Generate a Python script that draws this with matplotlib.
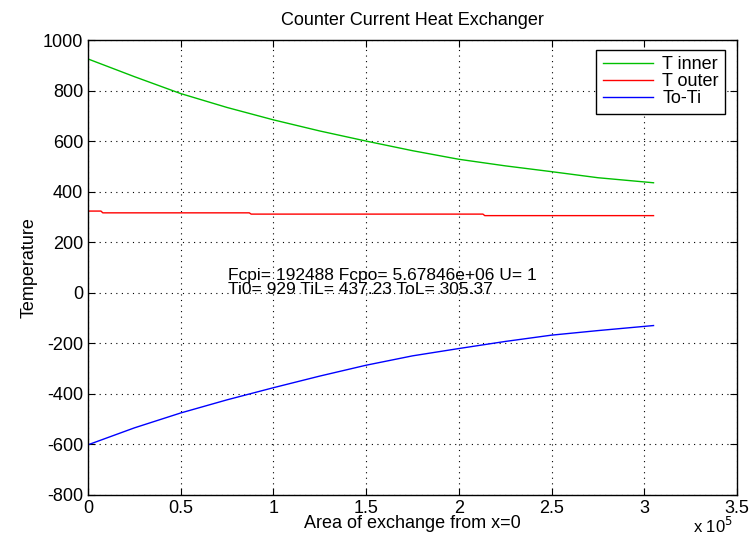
import matplotlib
matplotlib.use("Agg")
import matplotlib.pyplot as plt
from matplotlib.ticker import FuncFormatter

plt.rcParams['font.family'] = ['Liberation Sans Narrow', 'Liberation Sans', 'DejaVu Sans']
plt.rcParams['axes.unicode_minus'] = False

# area of exchange (units of 1e5)
area = [0, 0.25, 0.5, 0.75, 1.0, 1.25, 1.5, 1.75, 2.0, 2.25, 2.5, 2.75, 3.05]
t_inner = [925, 855, 788, 733, 684, 640, 600, 562, 528, 502, 479, 455, 435]
to_minus_ti = [-602, -535, -476, -424, -376, -330, -287, -250, -221, -193, -168, -150, -130]
# outer temperature shows small steps
area_outer = [0, 0.07, 0.08, 0.87, 0.88, 2.13, 2.14, 3.05]
t_outer = [323, 323, 316, 316, 311, 311, 305, 305]

fig = plt.figure(figsize=(7.52, 5.48), dpi=100)
ax = fig.add_axes([0.117, 0.097, 0.863, 0.83])

ax.plot([a * 1e5 for a in area], t_inner, color="#00c000", lw=1, label="T inner")
ax.plot([a * 1e5 for a in area_outer], t_outer, color="#ff0000", lw=1, label="T outer")
ax.plot([a * 1e5 for a in area], to_minus_ti, color="#0000ff", lw=1, label="To-Ti")

ax.set_xlim(0, 3.5e5)
ax.set_ylim(-800, 1000)
ax.set_xticks([i * 0.5e5 for i in range(8)])
ax.set_yticks(range(-800, 1001, 200))
ax.xaxis.set_major_formatter(FuncFormatter(lambda v, p: f"{v/1e5:g}"))
ax.grid(True, color="black", linestyle=(0, (1, 4)), lw=0.8)
ax.tick_params(direction="in", top=True, right=True, labelsize=13, length=5)
for s in ax.spines.values():
    s.set_linewidth(1)

ax.set_title("Counter Current Heat Exchanger", fontsize=13, pad=11)
ax.set_xlabel("Area of exchange from x=0", fontsize=13, labelpad=-1)
ax.set_ylabel("Temperature", fontsize=13, labelpad=4)
fig.text(0.948, 0.027, r"x 10$^5$", fontsize=12, ha="center")

ax.text(0.755e5, 40, "Fcpi= 192488 Fcpo= 5.67846e+06 U= 1\nTi0= 929 TiL= 437.23 ToL= 305.37",
        fontsize=12.5, va="center", linespacing=0.95)

leg = ax.legend(loc="upper right", bbox_to_anchor=(0.9815, 0.978), fontsize=13,
                fancybox=False, edgecolor="black", framealpha=1,
                handlelength=2.8, labelspacing=0.0, borderpad=0.35, handletextpad=0.5,
                borderaxespad=0)
leg.get_frame().set_linewidth(1)

fig.savefig("out.png", dpi=100)
